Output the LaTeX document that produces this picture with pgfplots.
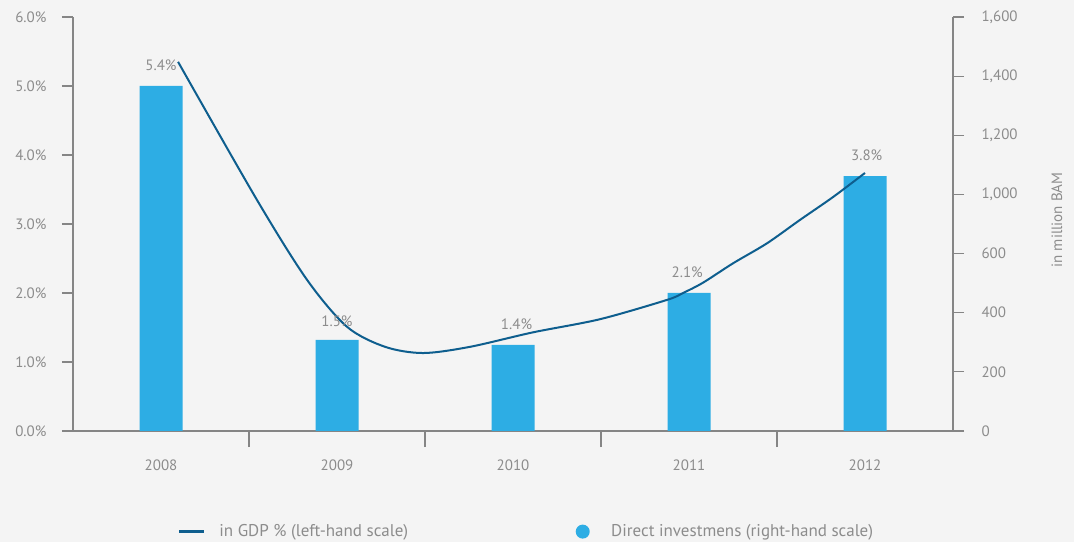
\documentclass[border=0pt]{standalone}
\usepackage{fontspec}
\setmainfont{PT Sans}
\usepackage{pgfplots}
\pgfplotsset{compat=1.18}
\definecolor{bg}{HTML}{F4F4F4}
\definecolor{barblue}{HTML}{2DADE4}
\definecolor{linecol}{HTML}{0E5E8E}
\definecolor{axisgray}{HTML}{858585}
\definecolor{txtgray}{HTML}{8C8C8C}
\newcommand{\chartfont}{\fontsize{15bp}{18bp}\selectfont}
\newcommand{\legfont}{\fontsize{17bp}{20bp}\selectfont}
\begin{document}
\begin{tikzpicture}[font=\chartfont]
\fill[bg] (0,0) rectangle (1074bp,542bp);
\pgfplotsset{
  base/.style={
    scale only axis, width=880bp, height=414bp,
    at={(73bp,111bp)}, anchor=south west,
    xmin=-0.5, xmax=4.5, ymin=0,
    axis line style={draw=axisgray, line width=1.2bp},
    tick style={draw=axisgray, line width=1.2bp},
    tick align=outside,
    major tick length=11bp, minor tick length=16bp,
    ticklabel style={text=txtgray, font=\chartfont},
    clip=false,
  }
}
\begin{axis}[base, ymax=1400,
  axis y line*=right, axis x line*=bottom,
  ytick={0,200,400,600,800,1000,1200,1400},
  yticklabels={0,200,400,600,{1,000},{1,200},{1,400},{1,600}},
  yticklabel style={anchor=west, xshift=14bp},
  xtick={0,1,2,3,4},
  xticklabels={2008,2009,2010,2011,2012},
  xticklabel style={yshift=-14bp},
  major x tick style={draw=none},
  minor xtick={0.5,1.5,2.5,3.5},
  ylabel={in million BAM},
  ylabel style={at={(rel axis cs:1,0.51)}, anchor=center, yshift=-104bp, text=txtgray, font=\chartfont},
]
\addplot[ybar, bar width=43bp, fill=barblue, draw=none] coordinates {
  (0,1167) (1,308) (2,291) (3,467) (4,862)
};
\end{axis}
\begin{axis}[base, ymax=6,
  axis y line*=left, axis x line=none, xtick=\empty,
  ytick={0,1,2,3,4,5,6},
  yticklabels={0.0\%,1.0\%,2.0\%,3.0\%,4.0\%,5.0\%,6.0\%},
  yticklabel style={anchor=east, xshift=-12bp},
  legend columns=2,
  legend style={draw=none, fill=none, at={(0.119,-0.243)}, anchor=west,
    inner sep=0pt, text=txtgray, font=\legfont,
    /tikz/every odd column/.append style={column sep=12bp},
    /tikz/every even column/.append style={column sep=165bp}},
]
\addplot[smooth, tension=0.5, draw=linecol, line width=2bp,
  legend image code/.code={\draw[linecol, line width=2.5bp] (0bp,0bp) -- (25bp,0bp);}]
coordinates {
  (0.097,5.35) (0.545,3.35) (0.830,2.19) (1.057,1.51) (1.273,1.22)
  (1.489,1.13) (1.756,1.22) (2.114,1.43) (2.494,1.62) (2.875,1.90)
  (2.966,2.00) (3.08,2.15) (3.25,2.43) (3.443,2.72) (3.631,3.06)
  (3.818,3.39) (4.0,3.74)
};
\addlegendentry{in GDP \% (left-hand scale)}
\addlegendimage{legend image code/.code={\path[draw=none, fill=barblue] (7.5bp,0bp) circle (7bp); \path[draw=none, fill=none] (0bp,-1bp) rectangle (22bp,1bp);}}
\addlegendentry{Direct investmens (right-hand scale)}
\node[text=txtgray] at (axis cs:0,5.30) {5.4\%};
\node[text=txtgray] at (axis cs:1.0,1.59) {1.5\%};
\node[text=txtgray] at (axis cs:2.02,1.54) {1.4\%};
\node[text=txtgray] at (axis cs:2.99,2.30) {2.1\%};
\node[text=txtgray] at (axis cs:4.01,3.99) {3.8\%};
\end{axis}
\pgfresetboundingbox
\path (0,0) rectangle (1074bp,542bp);
\end{tikzpicture}
\end{document}
